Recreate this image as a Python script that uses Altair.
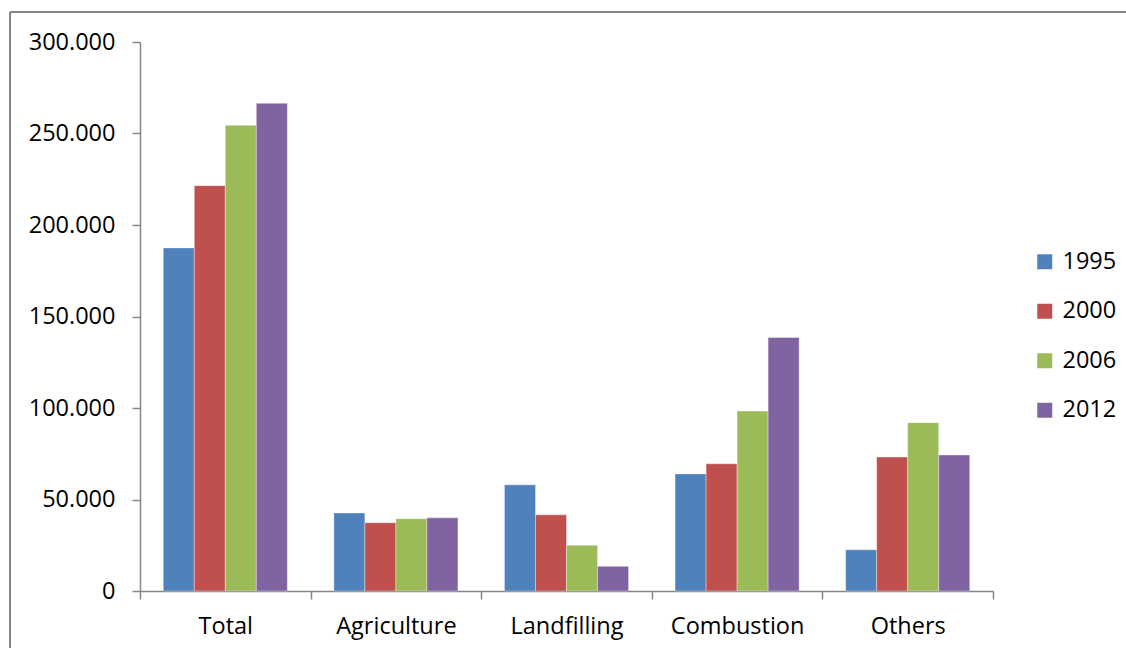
import altair as alt
import pandas as pd

# Emissions by source and year (values in tonnes)
categories = ["Total", "Agriculture", "Landfilling", "Combustion", "Others"]
years = ["1995", "2000", "2006", "2012"]
values_1995 = [187500, 42600, 58000, 64000, 22500]
values_2000 = [221500, 37300, 41600, 69500, 73200]
values_2006 = [254500, 39500, 25000, 98300, 92000]
values_2012 = [266500, 40000, 13500, 138500, 74300]
colors = ["#4F81BD", "#C0504D", "#9BBB59", "#8064A2"]

rows = []
for year, series in zip(years, [values_1995, values_2000, values_2006, values_2012]):
    for cat, v in zip(categories, series):
        rows.append({"category": cat, "year": year, "value": v})
df = pd.DataFrame(rows)

FONT = "Open Sans"
GRAY = "#868686"
FS = 23.5

bars = alt.Chart(df).mark_bar(stroke="white", strokeWidth=0.6, strokeOpacity=0.6).encode(
    x=alt.X(
        "category:N",
        sort=categories,
        title=None,
        scale=alt.Scale(paddingInner=0, paddingOuter=0),
        axis=alt.Axis(
            tickBand="extent",
            labelAngle=0,
            labelFont=FONT,
            labelFontSize=FS,
            labelColor="black",
            labelPadding=15,
            tickSize=8,
            tickColor=GRAY,
            tickWidth=1.5,
            domainColor=GRAY,
            domainWidth=1.5,
        ),
    ),
    xOffset=alt.XOffset(
        "year:N",
        sort=years,
        scale=alt.Scale(paddingInner=0, paddingOuter=0.75),
    ),
    y=alt.Y(
        "value:Q",
        title=None,
        scale=alt.Scale(domain=[0, 300000], nice=False),
        axis=alt.Axis(
            values=[0, 50000, 100000, 150000, 200000, 250000, 300000],
            labelExpr="replace(format(datum.value, ',d'), ',', '.')",
            labelFont=FONT,
            labelFontSize=FS,
            labelColor="black",
            labelPadding=17,
            tickSize=8,
            tickColor=GRAY,
            tickWidth=1.5,
            domainColor=GRAY,
            domainWidth=1.5,
            grid=False,
        ),
    ),
    color=alt.Color(
        "year:N",
        sort=years,
        scale=alt.Scale(domain=years, range=colors),
        legend=alt.Legend(
            title=None,
            orient="none",
            legendX=893,
            legendY=208,
            symbolType="square",
            symbolSize=225,
            symbolStrokeWidth=0,
            labelFont=FONT,
            labelFontSize=FS,
            labelColor="black",
            labelOffset=6,
            rowPadding=24.5,
        ),
    ),
)

# Outer frame: left and top edges of the chart border
frame_left = alt.Chart(df).mark_rule(color=GRAY, strokeWidth=1.5).encode(
    x=alt.value(-130), y=alt.value(-30), y2=alt.value(620)
)
frame_top = alt.Chart(df).mark_rule(color=GRAY, strokeWidth=1.5).encode(
    x=alt.value(-130), x2=alt.value(990), y=alt.value(-30)
)

chart = (
    alt.layer(bars, frame_left, frame_top)
    .properties(
        width=853,
        height=549,
        autosize=alt.AutoSizeParams(type="none"),
        padding={"left": 140, "top": 42, "right": 133, "bottom": 57},
    )
    .configure(background="white")
    .configure_view(stroke="transparent", strokeWidth=0)
)

chart.save("out.html", embed_options={"renderer": "svg", "actions": False})
